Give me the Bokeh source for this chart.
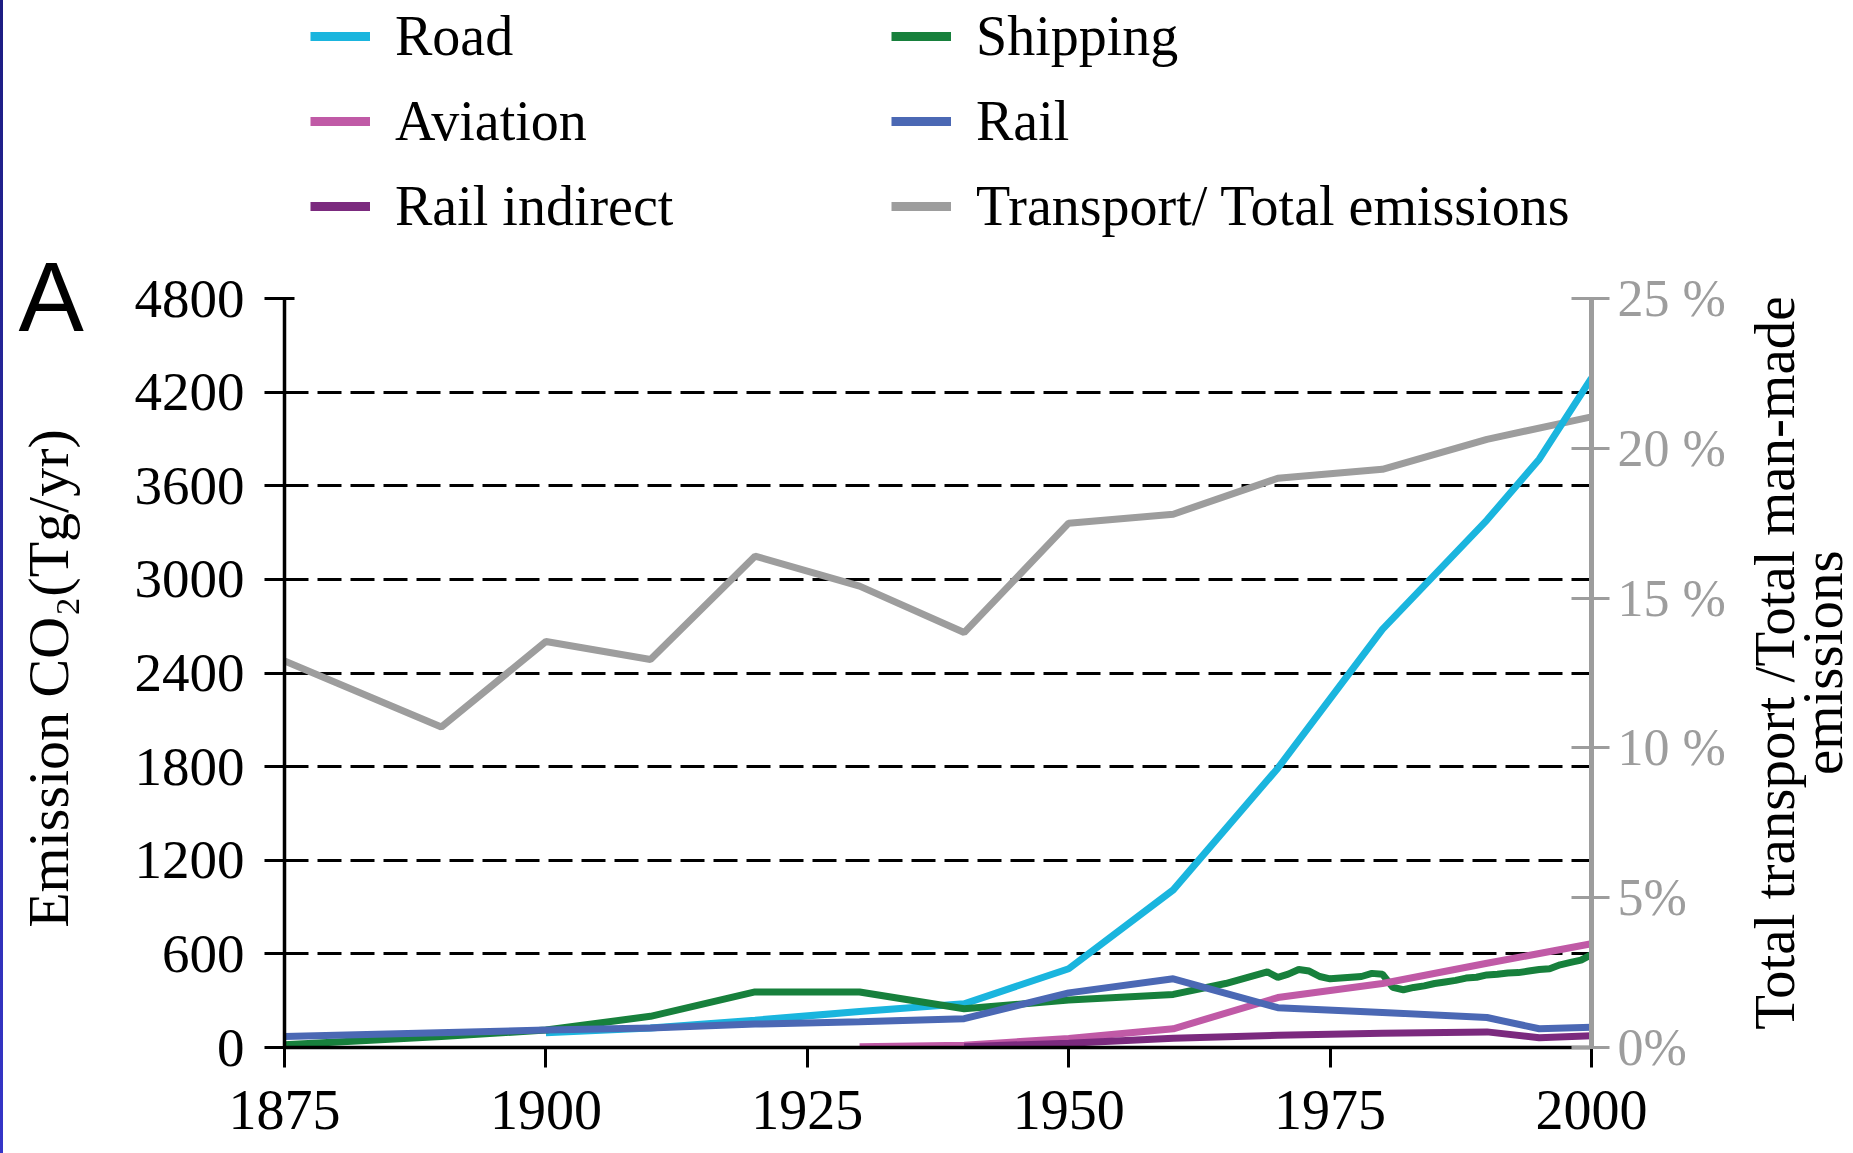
from bokeh.plotting import figure
from bokeh.layouts import column, row
from bokeh.models import Range1d, LinearAxis, FixedTicker, Legend, LegendItem, Label
from bokeh.embed import file_html
from bokeh.resources import INLINE

# ---------------- data ----------------
share_years = [1875, 1890, 1900, 1910, 1920, 1930, 1940, 1950, 1960, 1970, 1980, 1990, 2000]
share_pct = [12.9, 10.7, 13.55, 12.95, 16.4, 15.4, 13.85, 17.5, 17.8, 19.0, 19.3, 20.3, 21.05]

road_years = [1900, 1910, 1920, 1930, 1940, 1950, 1960, 1970, 1980, 1990, 1995, 2000]
road = [95, 125, 175, 230, 280, 505, 1010, 1790, 2680, 3380, 3770, 4290]

ship_years = [1875, 1890, 1900, 1910, 1920, 1930, 1940, 1950, 1960, 1965, 1969, 1970,
              1971, 1972, 1973, 1974, 1975, 1976, 1977, 1978, 1979, 1980, 1981, 1982,
              1983, 1984, 1985, 1986, 1987, 1988, 1989, 1990, 1991, 1992, 1993, 1994,
              1995, 1996, 1997, 1998, 1999, 2000]
shipping = [17, 70, 112, 200, 356, 356, 248, 305, 340, 410, 484, 450,
            470, 500, 490, 455, 440, 445, 450, 455, 475, 470, 385, 370,
            385, 395, 410, 420, 430, 445, 450, 465, 470, 478, 480, 490,
            500, 505, 530, 545, 560, 595]

aviation_years = [1930, 1940, 1950, 1960, 1970, 1980, 1990, 2000]
aviation = [5, 15, 58, 120, 320, 410, 540, 665]

rail_years = [1875, 1900, 1910, 1920, 1930, 1940, 1950, 1960, 1970, 1980, 1990, 1995, 2000]
rail = [70, 112, 125, 150, 165, 185, 350, 440, 255, 225, 192, 120, 130]

rail_ind_years = [1940, 1950, 1960, 1970, 1980, 1990, 1995, 2000]
rail_indirect = [5, 28, 60, 78, 92, 100, 62, 76]

x_ticks = [1875, 1900, 1925, 1950, 1975, 2000]
y_ticks = [0, 600, 1200, 1800, 2400, 3000, 3600, 4200, 4800]
pct_ticks = [0, 5, 10, 15, 20, 25]
pct_labels = ["0%", "5%", "10 %", "15 %", "20 %", "25 %"]

C_ROAD = "#1ab5de"
C_SHIP = "#17803c"
C_AVI = "#c05aa6"
C_RAIL = "#4b68b4"
C_RIND = "#7b2a7e"
C_GRAY = "#9d9d9d"

# legend order: column 1 then column 2
series = [
    ("Road", road_years, road, C_ROAD),
    ("Aviation", aviation_years, aviation, C_AVI),
    ("Rail indirect", rail_ind_years, rail_indirect, C_RIND),
    ("Shipping", ship_years, shipping, C_SHIP),
    ("Rail", rail_years, rail, C_RAIL),
    ("Transport/ Total emissions", share_years, share_pct, C_GRAY),
]

SERIF = "Liberation Serif"
FS = "55px"
LW = 7
ROT = 1.5707963


def blank(w, h, transparent=False, **kw):
    f = figure(width=w, height=h, x_range=Range1d(0, w), y_range=Range1d(0, h),
               x_axis_location=None, y_axis_location=None, min_border=0,
               output_backend="svg", toolbar_location=None, **kw)
    f.grid.visible = False
    f.outline_line_color = None
    f.background_fill_color = "white"
    f.border_fill_color = "white"
    if transparent:
        f.background_fill_alpha = 0
        f.border_fill_alpha = 0
    return f


# ---------------- main chart ----------------
p = figure(width=1640, height=907,
           x_range=Range1d(1875, 2000), y_range=Range1d(0, 4800),
           output_backend="svg", toolbar_location=None,
           min_border_left=194, min_border_top=52, min_border_right=139,
           min_border_bottom=106)
p.outline_line_color = None
p.background_fill_color = "white"
p.border_fill_color = "white"
p.extra_y_ranges = {"pct": Range1d(0, 25)}

p.xgrid.visible = False
p.ygrid.ticker = FixedTicker(ticks=y_ticks)
p.ygrid.grid_line_color = "black"
p.ygrid.grid_line_dash = "24 9"
p.ygrid.grid_line_width = 3

p.line(share_years, share_pct, y_range_name="pct", line_color=C_GRAY, line_width=LW)
p.line(road_years, road, line_color=C_ROAD, line_width=LW)
p.line(ship_years, shipping, line_color=C_SHIP, line_width=LW)
p.line(aviation_years, aviation, line_color=C_AVI, line_width=LW)
p.line(rail_ind_years, rail_indirect, line_color=C_RIND, line_width=LW)
p.line(rail_years, rail, line_color=C_RAIL, line_width=LW)

xa = p.xaxis[0]
xa.ticker = FixedTicker(ticks=x_ticks)
xa.axis_line_width = 3.5
xa.major_tick_line_width = 3
xa.major_tick_in = 0
xa.major_tick_out = 20
xa.minor_tick_line_color = None
xa.major_label_text_font = SERIF
xa.major_label_text_font_size = "56px"
xa.major_label_text_color = "black"
xa.major_label_standoff = 23

ya = p.yaxis[0]
ya.ticker = FixedTicker(ticks=y_ticks)
ya.axis_line_width = 3.5
ya.major_tick_line_width = 3
ya.major_tick_in = 10
ya.major_tick_out = 20
ya.minor_tick_line_color = None
ya.major_label_text_font = SERIF
ya.major_label_text_font_size = FS
ya.major_label_text_color = "black"
ya.major_label_standoff = 20

ra = LinearAxis(y_range_name="pct", ticker=FixedTicker(ticks=pct_ticks))
ra.major_label_overrides = {t: s for t, s in zip(pct_ticks, pct_labels)}
ra.axis_line_color = C_GRAY
ra.axis_line_width = 5
ra.major_tick_line_color = C_GRAY
ra.major_tick_line_width = 3
ra.major_tick_in = 20
ra.major_tick_out = 18
ra.minor_tick_line_color = None
ra.major_label_text_font = SERIF
ra.major_label_text_font_size = "52px"
ra.major_label_text_color = C_GRAY
ra.major_label_standoff = 8
p.add_layout(ra, "right")

# ---------------- left strip (full height): panel letter + y title ----------------
left = blank(90, 1153, transparent=True)
left.add_layout(Label(x=48, y=475, text="Emission CO\u2082(Tg/yr)", angle=ROT,
                      text_align="center", text_baseline="middle",
                      text_font=SERIF, text_font_size="58px", text_color="black"))
left.add_layout(Label(x=18, y=857, text="A", text_align="left", text_baseline="middle",
                      text_font="Liberation Sans", text_font_size="98px", text_color="black"))

# ---------------- right strip: secondary axis title ----------------
right = blank(118, 907)
for txt, xpos in [("Total transport /Total man-made", 44), ("emissions", 92)]:
    right.add_layout(Label(x=xpos, y=466, text=txt, angle=ROT,
                           text_align="center", text_baseline="middle",
                           text_font=SERIF, text_font_size="57px", text_color="black"))

# ---------------- top strip: legend in two columns ----------------
top = blank(1758, 246, transparent=True)
items = []
for name, xs, ys, col in series:
    r = top.line(xs, ys, line_color=col, line_width=9, visible=False)
    items.append(LegendItem(label=name, renderers=[r]))


def make_legend(its, loc):
    return Legend(items=its, location=loc, orientation="vertical",
                  label_text_font=SERIF, label_text_font_size="56px", label_text_color="black",
                  glyph_width=60, glyph_height=62, label_height=62, label_standoff=25,
                  spacing=21, padding=0, margin=0, border_line_color=None,
                  background_fill_alpha=0, inactive_fill_alpha=0)


top.add_layout(make_legend(items[:3], (220, 8)))
top.add_layout(make_legend(items[3:], (801, 8)))

layout = row(left, column(top, row(p, right)))
layout.styles = {"background": "linear-gradient(#1c1c82, #2a2aa4 50%, #3535c8) left top / 3px 100% no-repeat, white"}
open("out.html", "w").write(file_html(layout, INLINE))
